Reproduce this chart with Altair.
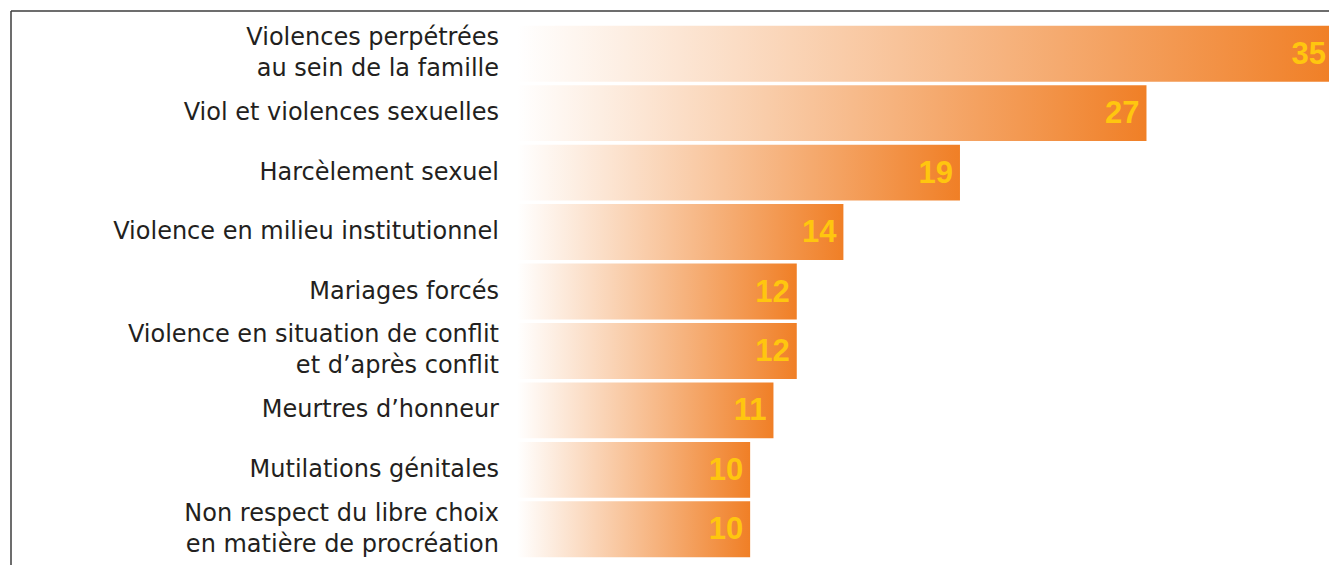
import altair as alt
import pandas as pd

categories = [
    "Violences perpétrées|au sein de la famille",
    "Viol et violences sexuelles",
    "Harcèlement sexuel",
    "Violence en milieu institutionnel",
    "Mariages forcés",
    "Violence en situation de conflit|et d\u2019après conflit",
    "Meurtres d\u2019honneur",
    "Mutilations génitales",
    "Non respect du libre choix|en matière de procréation",
]
values = [35, 27, 19, 14, 12, 12, 11, 10, 10]

df = pd.DataFrame({
    "key": categories,
    "lines": [c.split("|") for c in categories],
    "n": [len(c.split("|")) for c in categories],
    "value": values,
})

W, H = 808, 535
LH = 31
order = categories

x = alt.X("value:Q", scale=alt.Scale(domain=[0, 35], range=[0, 816], nice=False, zero=True), axis=None)
y = alt.Y("key:N", sort=order, axis=None,
          scale=alt.Scale(paddingInner=0.06, paddingOuter=0.03))

grad = alt.Gradient(
    gradient="linear",
    stops=[alt.GradientStop(color="#FFFFFF", offset=0),
           alt.GradientStop(color="#F07F26", offset=1)],
    x1=0, x2=1, y1=0, y2=0,
)

base = alt.Chart(df)

bars = base.mark_bar(color=grad, strokeWidth=0).encode(x=x, y=y)

nums = base.mark_text(
    align="right", baseline="middle", dx=-7, dy=1,
    font="Liberation Sans", fontSize=31, fontWeight="bold", color="#FFC60F",
).encode(x=x, y=y, text="value:Q")

cat_style = dict(align="right", baseline="middle", lineHeight=LH,
                 font="DejaVu Sans", fontSize=24, color="#231F20")
cats1 = base.transform_filter("datum.n == 1").mark_text(**cat_style).encode(
    x=alt.value(-18), y=y, text="lines")
cats2 = base.transform_filter("datum.n == 2").mark_text(dy=-LH / 2, **cat_style).encode(
    x=alt.value(-18), y=y, text="lines")

frame_data = alt.Data(values=[{"a": 1}])
top_line = alt.Chart(frame_data).mark_rule(color="#3C3C3C", strokeWidth=1.5).encode(
    x=alt.value(-506), x2=alt.value(W + 20), y=alt.value(-13)
)
left_line = alt.Chart(frame_data).mark_rule(color="#3C3C3C", strokeWidth=1.5).encode(
    x=alt.value(-506), y=alt.value(-13), y2=alt.value(H + 30)
)

chart = alt.layer(bars, nums, cats1, cats2, top_line, left_line).properties(
    width=W, height=H,
    autosize=alt.AutoSizeParams(type="none"),
    padding={"left": 509, "top": 16, "right": 4, "bottom": 8},
).configure_view(stroke=None)

chart.save("out.html", embed_options={"renderer": "svg", "actions": False})
